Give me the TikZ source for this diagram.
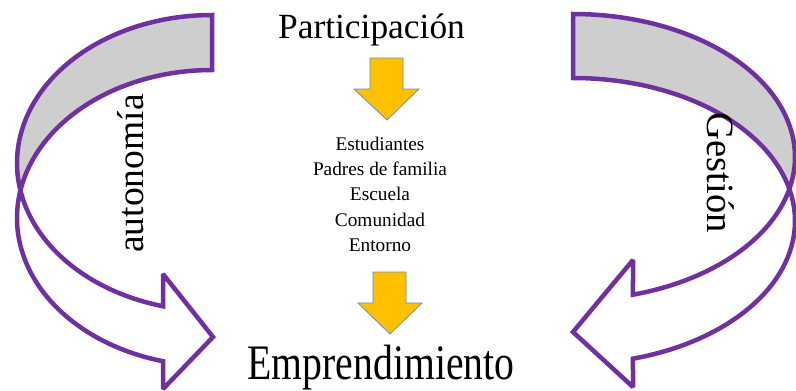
\documentclass[tikz,border=0pt]{standalone}
\usepackage{fontspec}
\setmainfont{Liberation Serif}
\definecolor{bandpurple}{RGB}{112,48,160}
\definecolor{bandgray}{RGB}{206,206,206}
\definecolor{arrowyellow}{RGB}{255,192,0}
\definecolor{arrowedge}{RGB}{110,140,180}
\begin{document}
\begin{tikzpicture}[x=1pt,y=-1pt,
  band/.style={draw=bandpurple,line width=4.5pt,line join=miter,miter limit=2},
  backband/.style={band,fill=bandgray},
  frontband/.style={band,fill=white},
  downarrow/.style={draw=arrowedge,fill=arrowyellow,line width=0.8pt},
  bigtext/.style={inner sep=0pt,anchor=base}
]
\useasboundingbox (0,0) rectangle (796,391);
\fill[white] (0,0) rectangle (796,391);

% left curved arrow
\path[backband] (212,15)
  -- plot[domain=270:169.29,samples=60] ({212+195*cos(\x)},{163+148*sin(\x)})
  -- plot[domain=190.71:270,samples=60] ({212+195*cos(\x)},{218+148*sin(\x)})
  -- cycle;
\path[frontband]
  plot[domain=190.71:104.55,samples=60] ({212+195*cos(\x)},{218+148*sin(\x)})
  -- (163,389) -- (213,337) -- (163,274)
  -- plot[domain=104.55:169.29,samples=60] ({212+195*cos(\x)},{163+148*sin(\x)})
  -- cycle;

% right curved arrow
\path[backband] (573,14)
  -- plot[domain=-90:12.93,samples=60] ({573+222*cos(\x)},{157+143*sin(\x)})
  -- plot[domain=-12.93:-90,samples=60] ({573+222*cos(\x)},{221+143*sin(\x)})
  -- cycle;
\path[frontband]
  plot[domain=-12.93:74.32,samples=60] ({573+222*cos(\x)},{221+143*sin(\x)})
  -- (633,387) -- (573,332) -- (633,260)
  -- plot[domain=74.32:12.93,samples=60] ({573+222*cos(\x)},{157+143*sin(\x)})
  -- cycle;

% yellow arrows
\path[downarrow] (370,58) -- (403,58) -- (403,89) -- (419,89) -- (387,120) -- (354,89) -- (370,89) -- cycle;
\path[downarrow] (373,272) -- (406,272) -- (406,303) -- (422,303) -- (390,334) -- (358,303) -- (373,303) -- cycle;

% texts
\node[bigtext,font=\fontsize{35.4pt}{40pt}\selectfont] (part) at (371.5,38) {Participación};
\node[bigtext,font=\fontsize{19.3pt}{24pt}\selectfont] (l1) at (380,150) {Estudiantes};
\node[bigtext,font=\fontsize{19.3pt}{24pt}\selectfont] (l2) at (380,175) {Padres de familia};
\node[bigtext,font=\fontsize{19.3pt}{24pt}\selectfont] (l3) at (380,200) {Escuela};
\node[bigtext,font=\fontsize{19.3pt}{24pt}\selectfont] (l4) at (380,226) {Comunidad};
\node[bigtext,font=\fontsize{19.3pt}{24pt}\selectfont] (l5) at (380,251) {Entorno};
\node[bigtext,yscale=1.25,font=\fontsize{39.7pt}{44pt}\selectfont] (empr) at (381,379) {Emprendimiento};
\node[bigtext,rotate=90,font=\fontsize{37.5pt}{42pt}\selectfont] (auto) at (143,173.5) {autonomía};
\node[bigtext,rotate=-90,font=\fontsize{38.6pt}{42pt}\selectfont] (gest) at (707,173) {Gestión};
\end{tikzpicture}
\end{document}
